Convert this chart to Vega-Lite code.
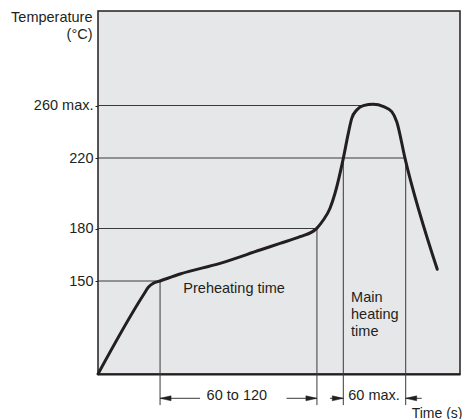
{
  "$schema": "https://vega.github.io/schema/vega-lite/v6.json",
  "width": 362,
  "height": 363,
  "autosize": {"type": "none"},
  "padding": {"left": 98, "top": 11, "right": 3, "bottom": 45},
  "config": {
    "view": {"fill": "#e6e7e9", "stroke": "#231f20", "strokeWidth": 1.5},
    "font": "Liberation Sans"
  },
  "datasets": {
    "curve": [
      {"t": 0, "v": 25}, {"t": 26.3, "v": 131.2}, {"t": 29.2, "v": 141.5}, {"t": 32.1, "v": 146.9},
      {"t": 36, "v": 150}, {"t": 47.6, "v": 154.0}, {"t": 70.8, "v": 160.1}, {"t": 94.0, "v": 167.7},
      {"t": 105.6, "v": 171.5}, {"t": 117.2, "v": 175.3}, {"t": 126.9, "v": 180.1}, {"t": 130.7, "v": 184.8},
      {"t": 134.6, "v": 191.5}, {"t": 137.5, "v": 200.0}, {"t": 142.3, "v": 219.8}, {"t": 145.2, "v": 238.8},
      {"t": 147.2, "v": 250.2}, {"t": 150.1, "v": 256.6}, {"t": 153.9, "v": 259.9}, {"t": 159.7, "v": 260.5},
      {"t": 165.7, "v": 259.1}, {"t": 170.4, "v": 255.3}, {"t": 173.3, "v": 247.7}, {"t": 178.1, "v": 219.8},
      {"t": 196.8, "v": 156.7}
    ],
    "guides": [
      {"t": 0, "t2": 36, "v": 150, "v2": 150},
      {"t": 0, "t2": 127, "v": 180, "v2": 180},
      {"t": 0, "t2": 178.5, "v": 220, "v2": 220},
      {"t": 0, "t2": 158, "v": 260, "v2": 260},
      {"t": 36, "t2": 36, "v": 150, "v2": -7},
      {"t": 127, "t2": 127, "v": 180, "v2": -7},
      {"t": 142.3, "t2": 142.3, "v": 220, "v2": -7},
      {"t": 178.5, "t2": 178.5, "v": 220, "v2": -7},
      {"t": 36, "t2": 59.2, "v": 0, "v2": 0},
      {"t": 109.4, "t2": 127, "v": 0, "v2": 0},
      {"t": 134.6, "t2": 142.3, "v": 0, "v2": 0},
      {"t": 178.5, "t2": 187.8, "v": 0, "v2": 0}
    ],
    "arrows": [
      {"t": 36, "v": 0, "dir": "left"},
      {"t": 127, "v": 0, "dir": "right"},
      {"t": 142.3, "v": 0, "dir": "right"},
      {"t": 178.5, "v": 0, "dir": "left"}
    ],
    "notes": [
      {"t": 49.5, "v": 138.8, "label": "Preheating time"},
      {"t": 146.8, "v": 127.2, "label": "Main\nheating\ntime"},
      {"t": 63.0, "v": 2, "label": "60 to 120"},
      {"t": 145.2, "v": 2, "label": "60 max."}
    ]
  },
  "encoding": {
    "x": {
      "field": "t", "type": "quantitative",
      "scale": {"domain": [0, 210], "nice": false, "zero": false},
      "axis": {
        "labels": false, "ticks": false, "grid": false, "domain": true,
        "domainColor": "#231f20", "domainWidth": 2,
        "title": "Time (s)", "titleFontSize": 14, "titleFontWeight": "normal", "titleColor": "#231f20",
        "titleAnchor": "end", "titleAlign": "right", "titleBaseline": "alphabetic",
        "titleX": 364, "titleY": 43
      }
    },
    "y": {
      "field": "v", "type": "quantitative",
      "scale": {
        "domain": [0, 25, 150, 180, 220, 260, 300],
        "range": [387.3, 363, 270, 217.5, 147, 94.5, 0],
        "nice": false, "zero": false
      },
      "axis": {
        "values": [150, 180, 220, 260],
        "labelExpr": "datum.value == 260 ? '260 max.' : datum.label",
        "ticks": true, "tickSize": 3, "tickColor": "#231f20", "tickWidth": 1,
        "labelFontSize": 14.5, "labelColor": "#231f20", "labelPadding": 2, "labelOverlap": false,
        "domain": false, "grid": false,
        "title": ["Temperature", "(°C)"], "titleFontSize": 14.5, "titleFontWeight": "normal", "titleColor": "#231f20",
        "titleAngle": 0, "titleAlign": "right", "titleBaseline": "alphabetic",
        "titleX": -6, "titleY": 10, "titleLineHeight": 17
      }
    }
  },
  "layer": [
    {
      "data": {"name": "guides"},
      "mark": {"type": "rule", "stroke": "#3a3a3a", "strokeWidth": 1},
      "encoding": {"x2": {"field": "t2"}, "y2": {"field": "v2"}}
    },
    {
      "data": {"name": "curve"},
      "mark": {"type": "line", "interpolate": "monotone", "stroke": "#231f20", "strokeWidth": 3, "strokeJoin": "round", "strokeCap": "round"},
      "encoding": {}
    },
    {
      "data": {"name": "arrows"},
      "transform": [{"filter": "datum.dir == 'left'"}],
      "mark": {"type": "point", "shape": "M0,0L2,-0.45L2,0.45Z", "filled": true, "opacity": 1, "size": 121, "fill": "#231f20", "stroke": "#231f20", "strokeWidth": 0.5},
      "encoding": {}
    },
    {
      "data": {"name": "arrows"},
      "transform": [{"filter": "datum.dir == 'right'"}],
      "mark": {"type": "point", "shape": "M0,0L-2,-0.45L-2,0.45Z", "filled": true, "opacity": 1, "size": 121, "fill": "#231f20", "stroke": "#231f20", "strokeWidth": 0.5},
      "encoding": {}
    },
    {
      "data": {"name": "notes"},
      "mark": {"type": "text", "align": "left", "baseline": "middle", "fontSize": 14.5, "color": "#231f20", "lineBreak": "\n", "lineHeight": 17},
      "encoding": {"text": {"field": "label"}}
    }
  ]
}
